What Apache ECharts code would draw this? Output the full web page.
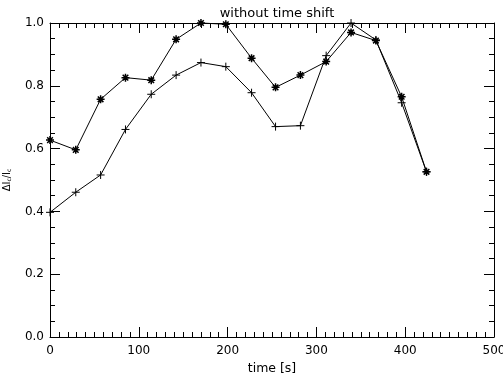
<!DOCTYPE html>
<html><head><meta charset="utf-8">
<script src="https://cdn.jsdelivr.net/npm/echarts@6/dist/echarts.min.js"></script>
<style>html,body{margin:0;padding:0;background:#fff}#c{width:503px;height:374px}</style>
</head><body><div id="c"></div>
<script>
const timeStar = [0, 29, 57, 85, 114, 142, 170, 198, 227, 254, 282, 311, 339, 367, 396, 424];
const valStar = [0.627, 0.596, 0.757, 0.826, 0.818, 0.948, 1.0, 0.996, 0.888, 0.795, 0.834, 0.877, 0.970, 0.944, 0.765, 0.526];
const timePlus = [0, 29, 57, 85, 114, 142, 170, 198, 227, 254, 282, 311, 339, 367, 396, 424];
const valPlus = [0.397, 0.461, 0.516, 0.661, 0.773, 0.834, 0.874, 0.861, 0.778, 0.670, 0.673, 0.896, 1.0, 0.946, 0.746, 0.526];
const xTicks = [0, 100, 200, 300, 400, 500];
const yTicks = [0.0, 0.2, 0.4, 0.6, 0.8, 1.0];

const FONT = 'DejaVu Sans';
const plusPath = 'path://M0 5 L10 5 M5 0 L5 10';
const starPath = 'path://M0 5 L10 5 M5 0 L5 10 M1.5 1.5 L8.5 8.5 M1.5 8.5 L8.5 1.5';

function mk(t, v){ return t.map((x,i)=>[x, v[i]]); }
const axisLine = {show:true, onZero:false, lineStyle:{color:'#000', width:1}};
const axisTick = {show:true, inside:true, length:10, lineStyle:{color:'#000'}};
const minorTick = {show:true, splitNumber:0, length:5, lineStyle:{color:'#000'}};

const chart = echarts.init(document.getElementById('c'), null, {renderer:'canvas'});
chart.setOption({
  animation:false,
  backgroundColor:'#fff',
  title:{text:'without time shift', left:272, top:2, textAlign:'center',
    textStyle:{fontFamily:FONT, fontSize:13, fontWeight:'normal', color:'#000'}},
  grid:{left:50, right:9, top:23, bottom:37, containLabel:false, outerBoundsMode:'none'},
  xAxis:[{
    type:'value', min:0, max:500, interval:100, position:'bottom',
    name:'time [s]', nameLocation:'middle', nameGap:18,
    nameTextStyle:{fontFamily:FONT, fontSize:12.5, color:'#000'},
    axisLine, axisTick, minorTick:{...minorTick, splitNumber:10},
    axisLabel:{fontFamily:FONT, fontSize:12, color:'#000', margin:8, formatter:v=>xTicks.includes(v)?String(v):''},
    splitLine:{show:false}
  },{
    type:'value', min:0, max:500, interval:100, position:'top',
    axisLine, axisTick, minorTick:{...minorTick, splitNumber:10},
    axisLabel:{show:false}, splitLine:{show:false}
  }],
  yAxis:[{
    type:'value', min:0, max:1, interval:0.2, position:'left',
    name:'ΔI{s|c}/I{s|c}', nameLocation:'middle', nameGap:38, nameRotate:90,
    nameTextStyle:{fontFamily:FONT, fontSize:10, color:'#000', rich:{s:{fontSize:6, verticalAlign:'bottom', fontFamily:FONT, color:'#000'}}},
    axisLine, axisTick, minorTick:{...minorTick, splitNumber:4},
    axisLabel:{fontFamily:FONT, fontSize:12, color:'#000', margin:6, formatter:v=>v.toFixed(1)},
    splitLine:{show:false}
  },{
    type:'value', min:0, max:1, interval:0.2, position:'right',
    axisLine, axisTick, minorTick:{...minorTick, splitNumber:4},
    axisLabel:{show:false}, splitLine:{show:false}
  }],
  series:[{
    type:'line', data:mk(timeStar, valStar), symbol:starPath, symbolSize:8,
    lineStyle:{color:'#000', width:1}, itemStyle:{color:'#000', borderColor:'#000', borderWidth:1.5},
    clip:false
  },{
    type:'line', data:mk(timePlus, valPlus), symbol:plusPath, symbolSize:8,
    lineStyle:{color:'#000', width:1}, itemStyle:{color:'#000', borderColor:'#000', borderWidth:1},
    clip:false
  }]
});
</script></body></html>
